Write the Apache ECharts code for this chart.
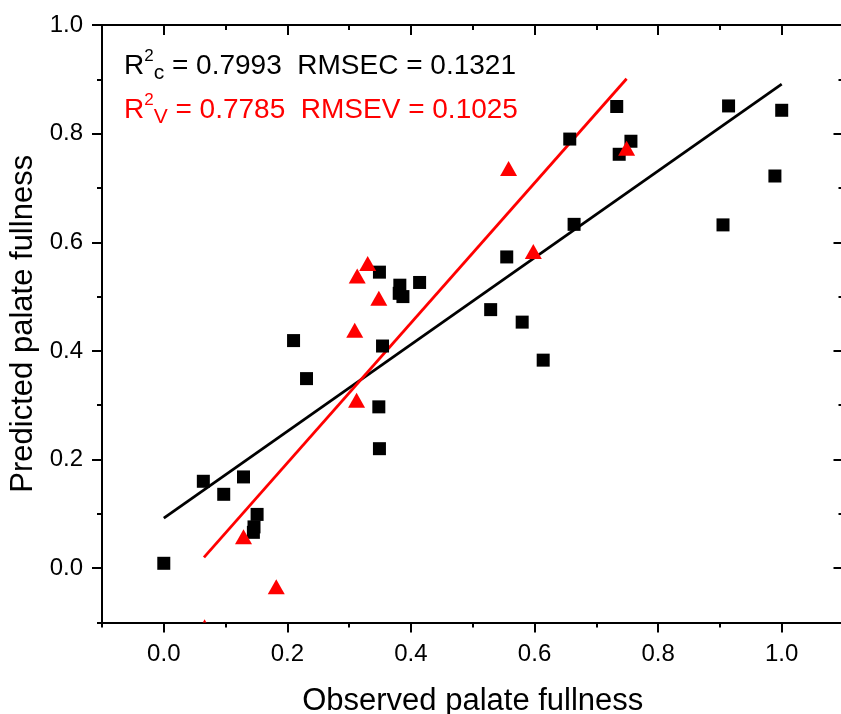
<!DOCTYPE html>
<html>
<head>
<meta charset="utf-8">
<script src="https://cdn.jsdelivr.net/npm/echarts@6/dist/echarts.min.js"></script>
<style>html,body{margin:0;padding:0;background:#fff}#c{width:841px;height:714px}</style>
</head>
<body>
<div id="c"></div>
<script>
// Calibration set (black squares)
const calX = [0.000, 0.064, 0.097, 0.129, 0.151, 0.146, 0.145, 0.210, 0.231, 0.349, 0.382, 0.381, 0.387, 0.414, 0.354, 0.348, 0.349, 0.529, 0.555, 0.580, 0.614, 0.657, 0.664, 0.733, 0.737, 0.756, 0.905, 0.914, 0.989, 1.000];
const calY = [0.009, 0.160, 0.136, 0.168, 0.099, 0.076, 0.066, 0.419, 0.349, 0.545, 0.521, 0.506, 0.500, 0.526, 0.409, 0.297, 0.220, 0.476, 0.573, 0.453, 0.383, 0.790, 0.633, 0.850, 0.762, 0.786, 0.632, 0.851, 0.722, 0.843];
// Validation set (red triangles)
const valX = [0.066, 0.129, 0.182, 0.309, 0.312, 0.313, 0.330, 0.348, 0.558, 0.598, 0.749];
const valY = [-0.108, 0.058, -0.034, 0.438, 0.309, 0.538, 0.561, 0.497, 0.736, 0.583, 0.773];
// Fitted lines (end points)
const calLineX = [0.0, 1.0];
const calLineY = [0.092, 0.891];
const valLineX = [0.065, 0.749];
const valLineY = [0.020, 0.901];
// Tick labels
const xTicks = [0.0, 0.2, 0.4, 0.6, 0.8, 1.0];
const yTicks = [0.0, 0.2, 0.4, 0.6, 0.8, 1.0];
const xTitle = 'Observed palate fullness';
const yTitle = 'Predicted palate fullness';

const FONT = '"Liberation Sans", Arial, Helvetica, sans-serif';
const zip = (a, b) => a.map((v, i) => [v, b[i]]);

function xAx(pos, major, inside) {
  const o = {
    type: 'value', min: -0.1, max: 1.1, position: pos,
    axisLine: { show: major, onZero: false, lineStyle: { color: '#000', width: 2 } },
    axisTick: { show: true, inside: inside, length: major ? 10 : 5, lineStyle: { color: '#000', width: 2 } },
    axisLabel: { show: false },
    splitLine: { show: false }
  };
  if (major) { o.axisTick.customValues = xTicks; o.axisLabel.customValues = xTicks; }
  else { o.interval = 0.1; }
  return o;
}
function yAx(pos, major, inside) {
  const o = {
    type: 'value', min: -0.1, max: 1.0, position: pos,
    axisLine: { show: major, onZero: false, lineStyle: { color: '#000', width: 2 } },
    axisTick: { show: true, inside: inside, length: major ? 10 : 5, lineStyle: { color: '#000', width: 2 } },
    axisLabel: { show: false },
    splitLine: { show: false }
  };
  if (major) { o.axisTick.customValues = yTicks; o.axisLabel.customValues = yTicks; }
  else { o.interval = 0.1; }
  return o;
}

const xb = xAx('bottom', true, false);
xb.axisLabel = { show: true, customValues: xTicks, formatter: v => v.toFixed(1), fontSize: 24, fontFamily: FONT, color: '#000', margin: 20 };
xb.name = xTitle; xb.nameLocation = 'middle'; xb.nameGap = 63;
xb.nameTextStyle = { fontSize: 31, fontFamily: FONT, color: '#000' };
const yl = yAx('left', true, false);
yl.axisLabel = { show: true, customValues: yTicks, formatter: v => v.toFixed(1), fontSize: 24, fontFamily: FONT, color: '#000', margin: 19 };
yl.name = yTitle; yl.nameLocation = 'middle'; yl.nameGap = 62;
yl.nameTextStyle = { fontSize: 31, fontFamily: FONT, color: '#000' };

const mk = (c, supLH, subLH) => ({
  m: { fontSize: 28, fontFamily: FONT, lineHeight: 36, fill: c },
  sa: { fontSize: 17, fontFamily: FONT, lineHeight: supLH, verticalAlign: 'top', fill: c },
  sb: { fontSize: 21, fontFamily: FONT, lineHeight: subLH, verticalAlign: 'bottom', fill: c }
});

function triangleItem(params, api) {
  const p = api.coord([api.value(0), api.value(1)]);
  const w = 17, h = 15;
  return {
    type: 'polygon',
    shape: { points: [[p[0], p[1] - h / 2], [p[0] + w / 2, p[1] + h / 2], [p[0] - w / 2, p[1] + h / 2]] },
    style: { fill: '#ff0000' }
  };
}

const option = {
  animation: false,
  backgroundColor: '#fff',
  grid: { left: 102, top: 25, width: 741.5, height: 597.5, containLabel: false, outerBoundsMode: 'none' },
  xAxis: [xb, xAx('bottom', false, false), xAx('top', true, true), xAx('top', false, true)],
  yAxis: [yl, yAx('left', false, false), yAx('right', true, true), yAx('right', false, true)],
  graphic: [
    { type: 'text', x: 124, y: 48, z: 100,
      style: { text: '{m|R}{sa|2}{sb|c}{m| = 0.7993  RMSEC = 0.1321}', rich: mk('#000', 10, 20), fill: '#000', verticalAlign: 'top' } },
    { type: 'text', x: 124, y: 92, z: 100,
      style: { text: '{m|R}{sa|2}{sb|V}{m| = 0.7785  RMSEV = 0.1025}', rich: mk('#ff0000', 20, 16), fill: '#ff0000', verticalAlign: 'top' } }
  ],
  series: [
    { type: 'line', data: zip(calLineX, calLineY), symbol: 'none', lineStyle: { color: '#000', width: 2.8 }, z: 2 },
    { type: 'line', data: zip(valLineX, valLineY), symbol: 'none', lineStyle: { color: '#ff0000', width: 2.8 }, z: 2 },
    { type: 'scatter', data: zip(calX, calY), symbol: 'rect', symbolSize: 13, itemStyle: { color: '#000', opacity: 1 }, z: 3 },
    { type: 'custom', data: zip(valX, valY), renderItem: triangleItem, clip: true, z: 4, encode: { x: 0, y: 1 } }
  ]
};
const chart = echarts.init(document.getElementById('c'), null, { renderer: 'canvas' });
chart.setOption(option);
</script>
</body>
</html>
